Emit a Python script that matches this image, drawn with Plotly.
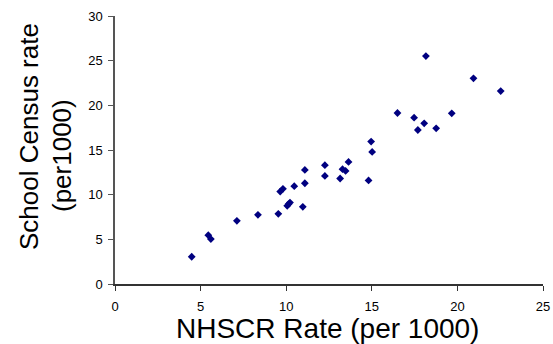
import plotly.graph_objects as go

nhscr_rate = [4.48, 5.45, 5.60, 7.12, 8.35, 9.54, 9.65, 9.81, 10.06, 10.14, 10.22,
              10.47, 10.97, 11.09, 11.09, 12.26, 12.26, 13.15, 13.29, 13.47, 13.64,
              14.81, 14.96, 15.02, 16.50, 17.47, 17.69, 18.06, 18.16, 18.76, 19.67,
              20.94, 22.53]
school_census_rate = [3.05, 5.47, 5.03, 7.07, 7.74, 7.86, 10.35, 10.65, 8.75, 8.95, 9.12,
                      10.95, 8.64, 12.77, 11.28, 13.30, 12.10, 11.81, 12.85, 12.66, 13.67,
                      11.59, 15.94, 14.79, 19.14, 18.62, 17.24, 17.99, 25.51, 17.43, 19.10,
                      23.02, 21.60]

x_ticks = [0, 5, 10, 15, 20, 25]
y_ticks = [0, 5, 10, 15, 20, 25, 30]
x_title = "NHSCR Rate (per 1000)"
y_title_lines = ["School Census rate", "(per1000)"]

W, H = 553, 344
L, R, T, B = 115, 10, 16, 60
pw, ph = W - L - R, H - T - B

fig = go.Figure()
fig.add_trace(go.Scatter(
    x=nhscr_rate, y=school_census_rate, mode="markers",
    marker=dict(symbol="diamond", size=6, color="#000080", line=dict(width=0)),
    showlegend=False,
))

font_family = "Liberation Sans, Arial, sans-serif"
fig.update_layout(
    width=W, height=H,
    margin=dict(l=L, r=R, t=T, b=B, autoexpand=False),
    paper_bgcolor="white", plot_bgcolor="white",
    font=dict(family=font_family, color="black"),
    xaxis=dict(
        range=[0, 25], tickvals=x_ticks, ticks="outside", ticklen=5,
        tickcolor="#333333", showline=True, linecolor="#333333", linewidth=1.5,
        showgrid=False, zeroline=False, tickfont=dict(size=13), automargin=False,
        ticklabelstandoff=5,
    ),
    yaxis=dict(
        range=[0, 30], tickvals=y_ticks, ticks="outside", ticklen=5,
        tickcolor="#555555", showline=True, linecolor="#555555", linewidth=1.5,
        showgrid=False, zeroline=False, tickfont=dict(size=13), automargin=False,
        ticklabelstandoff=3,
    ),
)

# y-axis title lines placed like the reference
for text, cx, cy in [(y_title_lines[0], 29, 137), (y_title_lines[1], 62, 156)]:
    fig.add_annotation(
        text=text, xref="paper", yref="paper",
        x=(cx - L) / pw, y=(H - B - cy) / ph,
        xanchor="center", yanchor="middle", showarrow=False, textangle=-90,
        font=dict(size=26, family=font_family, color="black"),
    )

# x-axis title
fig.add_annotation(
    text=x_title, xref="paper", yref="paper",
    x=(327 - L) / pw, y=(H - B - 328) / ph,
    xanchor="center", yanchor="middle", showarrow=False,
    font=dict(size=28, family=font_family, color="black"),
)

fig.write_html("out.html")
